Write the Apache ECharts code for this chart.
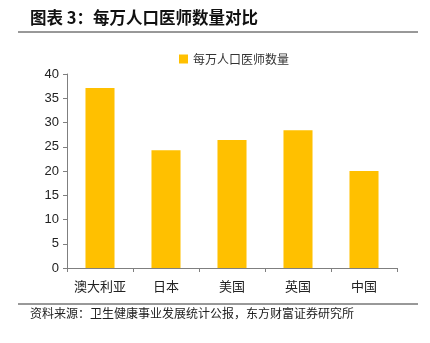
<!DOCTYPE html>
<html><head><meta charset="utf-8">
<script src="https://cdn.jsdelivr.net/npm/echarts@6/dist/echarts.min.js"></script>
<style>html,body{margin:0;padding:0;background:#fff}#c{width:430px;height:343px}</style>
</head><body><div id="c"></div>
<script>
const categories = ['澳大利亚','日本','美国','英国','中国'];
const values = [37.1, 24.3, 26.4, 28.4, 20.0];
const seriesName = '每万人口医师数量';
const titleText = '图表 3：每万人口医师数量对比';
const sourceText = '资料来源：卫生健康事业发展统计公报，东方财富证券研究所';

const chart = echarts.init(document.getElementById('c'), null, {renderer:'canvas'});
chart.setOption({
  animation:false,
  backgroundColor:'#fff',
  textStyle:{fontFamily:'"Noto Sans CJK SC", sans-serif'},
  legend:{data:[{name:seriesName, icon:'rect'}], top:48, left:174, itemWidth:9, itemHeight:9, itemGap:2,
    textStyle:{fontSize:12, color:'#333', fontFamily:'"Noto Sans CJK SC", sans-serif'}},
  grid:{left:67, right:33, top:74, bottom:75, containLabel:false},
  xAxis:{type:'category', data:categories,
    axisLine:{lineStyle:{color:'#7f7f7f'}},
    axisTick:{show:true, length:4, lineStyle:{color:'#7f7f7f'}},
    axisLabel:{interval:0, fontSize:13, color:'#222', margin:12, fontFamily:'"Noto Sans CJK SC", sans-serif'}},
  yAxis:{type:'value', min:0, max:40, interval:5,
    axisLine:{show:true, lineStyle:{color:'#7f7f7f'}},
    axisTick:{show:true, length:4, lineStyle:{color:'#7f7f7f'}},
    splitLine:{show:false},
    axisLabel:{fontSize:13, color:'#222', margin:8, fontFamily:'Arial, "Liberation Sans", sans-serif'}},
  series:[{name:seriesName, type:'bar', data:values, barWidth:'44%',
    itemStyle:{color:'#FFC000'}}],
  graphic:[
    {type:'text', left:30, top:9, style:{text:titleText, fontSize:16.5, fontWeight:'bold', fill:'#111', fontFamily:'"Noto Sans CJK SC", sans-serif'}},
    {type:'line', shape:{x1:18,y1:32,x2:418,y2:32}, style:{stroke:'#333', lineWidth:1}},
    {type:'line', shape:{x1:18,y1:304,x2:418,y2:304}, style:{stroke:'#333', lineWidth:1}},
    {type:'text', left:30, top:307, style:{text:sourceText, fontSize:12, fill:'#222', fontFamily:'"Noto Sans CJK SC", sans-serif'}}
  ]
});
</script></body></html>
